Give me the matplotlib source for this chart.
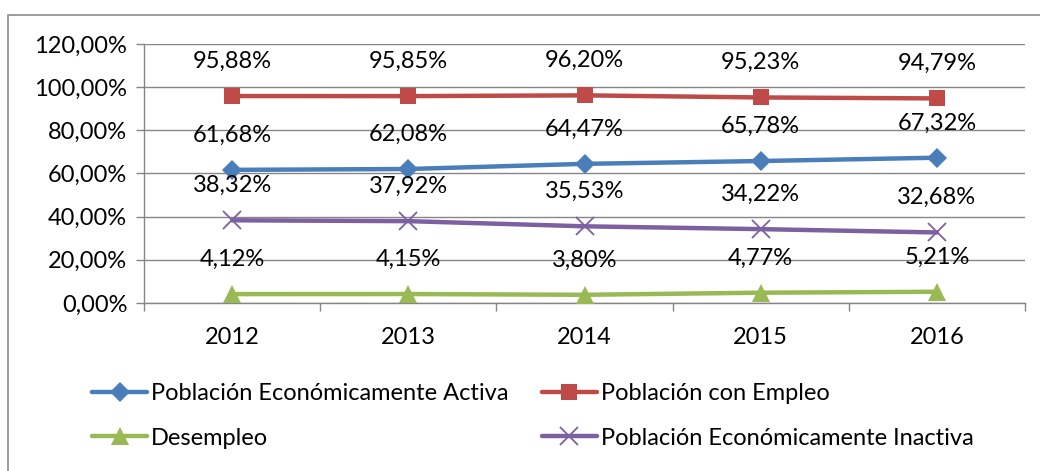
import matplotlib.pyplot as plt
from matplotlib.patches import Rectangle

# datos
anios = ['2012', '2013', '2014', '2015', '2016']
activa = [61.68, 62.08, 64.47, 65.78, 67.32]
empleo = [95.88, 95.85, 96.20, 95.23, 94.79]
desempleo = [4.12, 4.15, 3.80, 4.77, 5.21]
inactiva = [38.32, 37.92, 35.53, 34.22, 32.68]

plt.rcParams['font.family'] = ['Lato', 'DejaVu Sans']
fs = 17

fig = plt.figure(figsize=(10.4, 4.71), dpi=100)
ax = fig.add_axes([0.1385, 0.3567, 0.8471, 0.5499])

# borde exterior del gráfico
fig.patches.append(Rectangle((0.008, -0.01), 1.5, 0.978, transform=fig.transFigure,
                             fill=False, edgecolor='#8c8c8c', lw=1.2))

x = range(len(anios))
series = [
    (activa, 'Población Económicamente Activa', '#4A7EBB', 'D', 10),
    (empleo, 'Población con Empleo', '#BE4B48', 's', 12),
    (desempleo, 'Desempleo', '#98B954', '^', 13),
    (inactiva, 'Población Económicamente Inactiva', '#7D60A0', 'x', 13),
]
lineas = {}
for vals, nombre, color, mk, ms in series:
    ln, = ax.plot(x, vals, color=color, lw=3.2, marker=mk, markersize=ms,
                  markeredgewidth=1.3 if mk == 'x' else 0, markeredgecolor=color,
                  label=nombre, solid_capstyle='round', zorder=3)
    lineas[nombre] = ln
    for xi, v in zip(x, vals):
        ax.annotate(f'{v:.2f}%'.replace('.', ','), (xi, v), xytext=(0, 25),
                    textcoords='offset points', ha='center', va='center', fontsize=fs)

ax.set_xlim(-0.5, 4.5)
ax.set_ylim(0, 120)
ax.set_yticks(range(0, 121, 20))
ax.set_yticklabels([f'{v},00%' for v in range(0, 121, 20)])
ax.set_xticks(list(x))
ax.set_xticklabels(anios)
ax.set_xticks([i - 0.5 for i in range(6)], minor=True)
ax.tick_params(axis='x', which='major', length=0, pad=17, labelsize=fs)
ax.tick_params(axis='x', which='minor', length=6, color='#868686', width=1)
ax.tick_params(axis='y', length=6, color='#868686', width=1, labelsize=fs, pad=6)
ax.grid(axis='y', color='#868686', lw=1)
ax.set_axisbelow(True)
for s in ['top', 'right']:
    ax.spines[s].set_visible(False)
for s in ['left', 'bottom']:
    ax.spines[s].set_color('#868686')
    ax.spines[s].set_linewidth(1)

orden = ['Población Económicamente Activa', 'Desempleo',
         'Población con Empleo', 'Población Económicamente Inactiva']
fig.legend([lineas[n] for n in orden], orden, ncol=2, loc='center left',
           bbox_to_anchor=(0.068, 0.117), frameon=False, fontsize=fs,
           handlelength=2.35, handletextpad=0.15, columnspacing=1.4, labelspacing=1.0)

fig.savefig('out.png', dpi=100)
